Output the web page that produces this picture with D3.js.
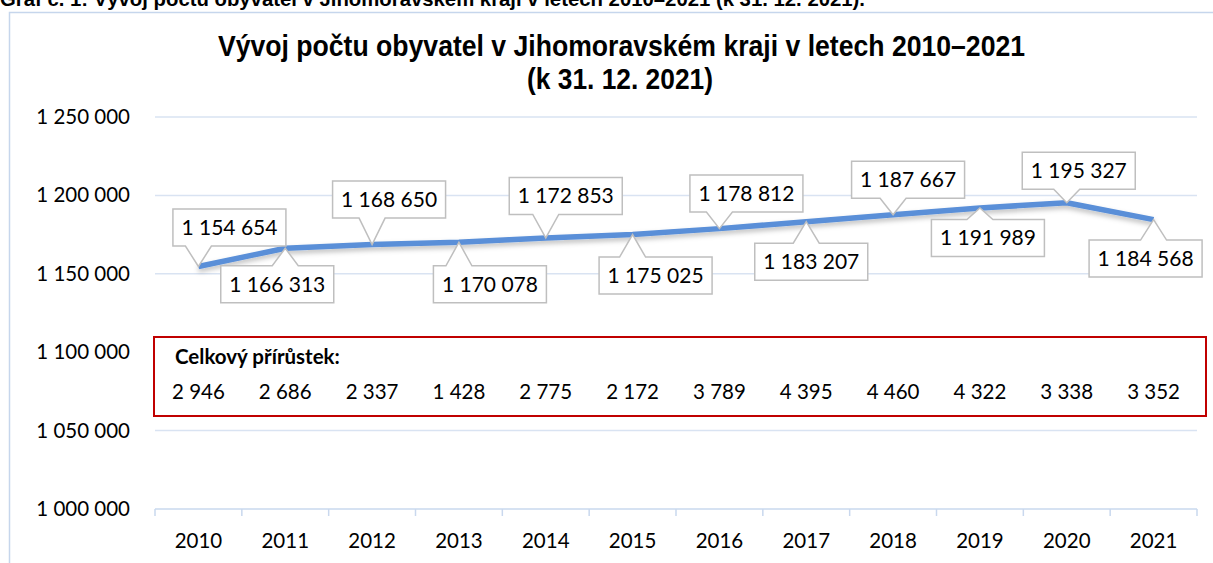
<!DOCTYPE html>
<html>
<head>
<meta charset="utf-8">
<script src="https://cdn.jsdelivr.net/npm/d3@7"></script>
<style>
  body { margin: 0; background: #fff; }
  svg { display: block; }
  .narrow { font-family: "Liberation Sans Narrow", "Arial Narrow", "Liberation Sans", sans-serif; font-weight: bold; }
  .calib { font-family: Lato, "Open Sans", sans-serif; }
</style>
</head>
<body>
<script>
// Data
var years = [2010, 2011, 2012, 2013, 2014, 2015, 2016, 2017, 2018, 2019, 2020, 2021];
var population = [1154654, 1166313, 1168650, 1170078, 1172853, 1175025, 1178812, 1183207, 1187667, 1191989, 1195327, 1184568];
var increase = [2946, 2686, 2337, 1428, 2775, 2172, 3789, 4395, 4460, 4322, 3338, 3352];
var yTicks = [1000000, 1050000, 1100000, 1150000, 1200000, 1250000];

// where each callout box sits relative to its point (dx, dy of box centre)
var calloutOffsets = [[31, -39], [-8, 36], [17, -45], [31, 42], [20, -42], [23, 41],
                      [27, -35], [5, 40], [15, -35], [8, 30], [12, -32], [-8, 39]];

var W = 1213, H = 563;
var svg = d3.select("body").append("svg").attr("width", W).attr("height", H);

var fmt = d3.formatLocale({decimal: ",", thousands: " ", grouping: [3]}).format(",d");

// caption above the chart (cut off at the top, as in the source)
svg.append("text").attr("class", "narrow")
  .attr("x", 0).attr("y", 6)
  .attr("textLength", 865).attr("lengthAdjust", "spacingAndGlyphs")
  .style("font-size", "20px").attr("fill", "#000")
  .text("Graf č. 1: Vývoj počtu obyvatel v Jihomoravském kraji v letech 2010–2021 (k 31. 12. 2021).");

// chart frame
svg.append("path")
  .attr("d", "M9.5," + H + " V12.5 H" + W)
  .attr("fill", "none").attr("stroke", "#c6d6ec").attr("stroke-width", 1.5);

// title
svg.append("text").attr("class", "narrow")
  .attr("x", 218).attr("y", 56)
  .attr("textLength", 807).attr("lengthAdjust", "spacingAndGlyphs")
  .style("font-size", "30px").attr("fill", "#000")
  .text("Vývoj počtu obyvatel v Jihomoravském kraji v letech 2010–2021");
svg.append("text").attr("class", "narrow")
  .attr("x", 527).attr("y", 89)
  .attr("textLength", 186).attr("lengthAdjust", "spacingAndGlyphs")
  .style("font-size", "30px").attr("fill", "#000")
  .text("(k 31. 12. 2021)");

// scales
var x = d3.scaleBand().domain(years).range([155, 1197]).padding(0);
var y = d3.scaleLinear().domain([1000000, 1250000]).range([509, 117]);
var cx = function(d) { return x(d) + x.bandwidth() / 2; };

// gridlines + y labels
svg.append("g").selectAll("line")
  .data(yTicks.slice(1))
  .enter().append("line")
  .attr("x1", 155).attr("x2", 1197)
  .attr("y1", function(d) { return y(d); })
  .attr("y2", function(d) { return y(d); })
  .attr("stroke", "#d9e3f2").attr("stroke-width", 1.5);

svg.append("g").selectAll("text")
  .data(yTicks)
  .enter().append("text").attr("class", "calib")
  .attr("x", 130).attr("y", function(d) { return y(d) + 7; })
  .attr("text-anchor", "end").style("font-size", "20.5px").attr("fill", "#000")
  .text(function(d) { return fmt(d); });

// x axis line and ticks at band edges
svg.append("line")
  .attr("x1", 155).attr("x2", 1197).attr("y1", y(1000000)).attr("y2", y(1000000))
  .attr("stroke", "#c9d8ee").attr("stroke-width", 1.5);
var edges = years.map(function(d) { return x(d); }).concat([x(years[years.length - 1]) + x.bandwidth()]);
svg.append("g").selectAll("line")
  .data(edges)
  .enter().append("line")
  .attr("x1", function(d) { return d; }).attr("x2", function(d) { return d; })
  .attr("y1", y(1000000)).attr("y2", y(1000000) + 7)
  .attr("stroke", "#c9d8ee").attr("stroke-width", 1.5);

svg.append("g").selectAll("text")
  .data(years)
  .enter().append("text").attr("class", "calib")
  .attr("x", cx).attr("y", 548)
  .attr("text-anchor", "middle").style("font-size", "20.5px").attr("fill", "#000")
  .text(function(d) { return d; });

// red box with total increase
svg.append("rect")
  .attr("x", 154).attr("y", 337).attr("width", 1052).attr("height", 79)
  .attr("fill", "#fff").attr("stroke", "#c00000").attr("stroke-width", 2);
svg.append("text").attr("class", "calib")
  .attr("x", 175).attr("y", 364)
  .style("font-size", "20.5px").style("font-weight", "bold").attr("fill", "#000")
  .text("Celkový přírůstek:");
svg.append("g").selectAll("text")
  .data(increase)
  .enter().append("text").attr("class", "calib")
  .attr("x", function(d, i) { return cx(years[i]); }).attr("y", 399)
  .attr("text-anchor", "middle").style("font-size", "20.5px").attr("fill", "#000")
  .text(function(d) { return fmt(d); });

// line with soft shadow
var defs = svg.append("defs");
var f = defs.append("filter").attr("id", "shadow").attr("x", "-5%").attr("y", "-50%").attr("width", "110%").attr("height", "200%");
f.append("feDropShadow").attr("dx", 0).attr("dy", 3).attr("stdDeviation", 2.5)
  .attr("flood-color", "#000").attr("flood-opacity", 0.25);

var pts = years.map(function(d, i) { return {year: d, value: population[i]}; });
var line = d3.line().x(function(d) { return cx(d.year); }).y(function(d) { return y(d.value); });
svg.append("path").datum(pts)
  .attr("d", line)
  .attr("fill", "none").attr("stroke", "#5a8fd8").attr("stroke-width", 5.5)
  .attr("stroke-linejoin", "round")
  .attr("filter", "url(#shadow)");

// callouts
var bw = 113, bh = 37;
var callouts = svg.append("g").selectAll("g")
  .data(pts)
  .enter().append("g");

callouts.append("path")
  .attr("d", function(d, i) {
    var px = cx(d.year), py = y(d.value);
    var bx = px + calloutOffsets[i][0], by = py + calloutOffsets[i][1];
    var x0 = bx - bw / 2, x1 = bx + bw / 2, y0 = by - bh / 2, y1 = by + bh / 2;
    var b1 = Math.max(x0 + 4, Math.min(px - 13, x1 - 30));
    var b2 = b1 + 26;
    if (by < py) {
      return "M" + x0 + "," + y0 + "H" + x1 + "V" + y1 + "H" + b2 + "L" + px + "," + py + "L" + b1 + "," + y1 + "H" + x0 + "Z";
    }
    return "M" + x0 + "," + y0 + "H" + b1 + "L" + px + "," + py + "L" + b2 + "," + y0 + "H" + x1 + "V" + y1 + "H" + x0 + "Z";
  })
  .attr("fill", "#fff").attr("stroke", "#bfbfbf").attr("stroke-width", 1.5);

callouts.append("text").attr("class", "calib")
  .attr("x", function(d, i) { return cx(d.year) + calloutOffsets[i][0]; })
  .attr("y", function(d, i) { return y(d.value) + calloutOffsets[i][1] + 7.5; })
  .attr("text-anchor", "middle").style("font-size", "21px").attr("fill", "#000")
  .text(function(d) { return fmt(d.value); });
</script>
</body>
</html>
